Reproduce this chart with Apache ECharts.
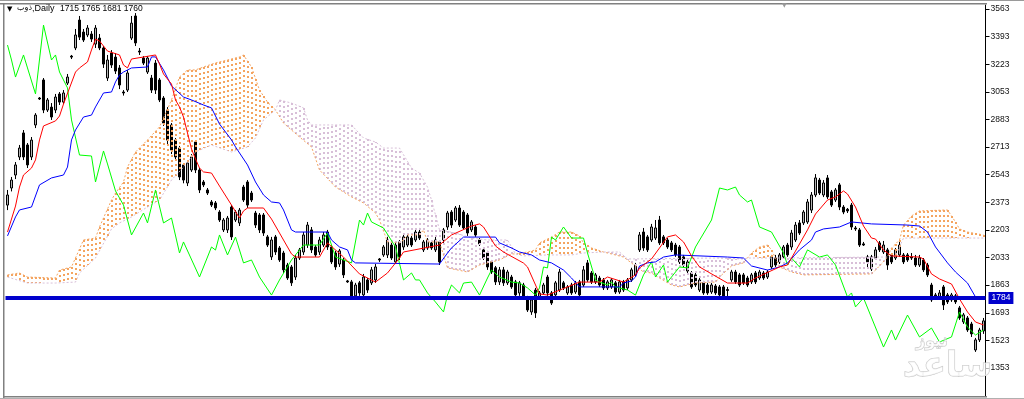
<!DOCTYPE html>
<html><head><meta charset="utf-8">
<script src="https://cdn.jsdelivr.net/npm/echarts@6/dist/echarts.min.js"></script>
<style>html,body{margin:0;padding:0;background:#fff}#c{width:1024px;height:399px}</style>
</head><body><div id="c"></div>
<script>
// ---- data ----
const opens = [2356,2461,2541,2652,2800,2726,2652,2849,3015,3126,2941,2959,2941,3040,2990,3107,3273,3323,3495,3421,3403,3409,3347,3384,3323,3138,3292,3267,3200,3052,3064,3384,3520,3304,3261,3175,3138,3230,3126,3015,2941,2849,2756,2707,2603,2492,2572,2744,2572,2498,2449,2375,2369,2313,2203,2203,2344,2264,2246,2467,2498,2430,2307,2295,2295,2160,2037,2160,2092,2061,1987,1975,1913,2030,2067,2110,2203,2098,2067,2110,2190,2098,2061,1993,2018,1889,1883,1797,1877,1803,1895,1877,1895,2024,2049,2049,2110,2006,2129,2098,2110,2153,2141,2190,2080,2092,2123,2080,2129,2141,2221,2313,2264,2338,2313,2295,2203,2221,2141,2080,2061,2006,1970,1883,1957,1877,1913,1883,1815,1864,1784,1698,1833,1784,1815,1913,1815,1803,1833,1877,1815,1864,1821,1883,1864,2000,1938,1883,1907,1895,1846,1852,1877,1821,1883,1846,1895,1926,2080,2190,2160,2141,2153,2264,2160,2141,2123,2110,2098,2037,1950,1938,1926,1833,1877,1864,1821,1858,1852,1852,1836,1895,1944,1926,1926,1907,1883,1938,1907,1938,1913,1975,2030,2006,2037,2110,2098,2141,2246,2246,2252,2325,2418,2510,2418,2523,2437,2387,2480,2344,2330,2356,2215,2203,2117,2037,1963,2030,2123,2067,2080,2049,2030,2049,2049,2049,2037,2030,1987,2018,1987,1864,1803,1790,1852,1803,1772,1797,1723,1637,1661,1624,1464,1526,1581];
const closes = [2418,2510,2603,2707,2652,2603,2756,2910,3009,2941,3003,2898,3021,2990,3046,3144,3267,3403,3390,3372,3446,3378,3446,3323,3224,3249,3218,3181,3095,3046,3169,3476,3354,3298,3230,3261,3064,3064,3003,2861,2756,2695,2652,2529,2510,2615,2652,2572,2449,2480,2430,2356,2338,2264,2264,2276,2160,2313,2325,2387,2356,2387,2233,2203,2184,2110,2141,2067,2018,1957,1907,1877,2030,2080,2172,2233,2080,2049,2141,2172,2098,2006,1975,2074,1926,1883,1790,1864,1815,1913,1833,1957,1975,2018,2098,2141,2030,2110,2037,2160,2160,2110,2190,2153,2129,2141,2092,2141,2006,2203,2307,2233,2338,2233,2215,2184,2252,2172,2117,2030,1975,1944,1883,1957,1877,1944,1852,1803,1877,1784,1710,1772,1692,1815,1864,1815,1753,1877,1944,1846,1852,1815,1877,1803,1957,1895,1883,1926,1864,1846,1883,1895,1821,1883,1833,1895,1957,1987,2172,2092,2080,2221,2215,2123,2123,2098,2080,2049,2006,1987,2006,1852,1864,1895,1815,1815,1864,1815,1803,1790,1830,1944,1883,1864,1877,1864,1926,1883,1944,1907,1944,2037,1987,2049,2098,2049,2184,2233,2184,2313,2375,2418,2523,2430,2492,2406,2356,2449,2344,2313,2320,2221,2209,2110,2110,2006,2037,2080,2080,2110,1987,2006,2080,2110,2006,2018,2030,1987,2030,1957,1926,1772,1797,1815,1741,1760,1803,1760,1661,1680,1587,1563,1526,1587,1643];
const lows = [2325,2440,2516,2633,2633,2584,2633,2830,3003,2922,2929,2880,2922,2972,2978,3095,3255,3310,3372,3360,3390,3360,3323,3310,3200,3120,3200,3163,3070,3030,3052,3372,3335,3280,3218,3163,3046,3040,2990,2843,2726,2670,2633,2510,2490,2473,2560,2553,2430,2467,2418,2344,2325,2252,2190,2184,2141,2252,2227,2375,2338,2375,2215,2184,2166,2098,2018,2049,2006,1938,1895,1858,1895,2018,2049,2092,2061,2037,2049,2098,2080,1993,1957,1975,1907,1877,1772,1778,1797,1784,1815,1864,1877,2006,2037,2030,2018,1993,2018,2080,2098,2098,2129,2141,2067,2080,2080,2067,1987,2123,2203,2215,2252,2221,2203,2166,2190,2160,2104,2018,1957,1932,1864,1864,1858,1864,1840,1784,1797,1772,1698,1680,1661,1772,1803,1797,1741,1790,1821,1833,1803,1803,1809,1790,1852,1883,1870,1870,1852,1833,1833,1840,1809,1809,1821,1833,1883,1913,2067,2074,2067,2129,2141,2110,2110,2086,2067,2037,1993,1975,1938,1840,1852,1821,1803,1803,1809,1803,1790,1778,1790,1883,1870,1852,1864,1852,1870,1870,1895,1895,1901,1963,1975,1993,2024,2037,2080,2129,2172,2233,2240,2307,2405,2418,2405,2393,2344,2375,2325,2300,2307,2203,2197,2098,2104,1970,1950,2018,2067,2055,1957,1993,2018,2037,1993,2006,2018,1975,1975,1944,1913,1760,1784,1778,1710,1747,1760,1747,1649,1624,1575,1544,1452,1513,1563];
const highs = [2449,2529,2621,2726,2818,2738,2775,2922,3021,3138,3015,2984,3040,3052,3064,3163,3280,3440,3520,3440,3464,3427,3464,3409,3335,3280,3310,3292,3218,3064,3187,3520,3538,3323,3273,3273,3157,3249,3138,3027,2959,2861,2769,2720,2615,2633,2670,2756,2584,2510,2461,2387,2381,2325,2276,2289,2356,2325,2338,2480,2510,2443,2320,2307,2307,2172,2160,2172,2104,2074,2000,1987,2049,2092,2190,2252,2221,2110,2160,2190,2203,2110,2074,2086,2030,1895,1895,1877,1889,1932,1907,1975,1993,2030,2110,2160,2123,2123,2141,2178,2172,2166,2203,2215,2141,2153,2135,2160,2141,2215,2320,2325,2350,2356,2325,2307,2264,2233,2153,2092,2074,2018,1981,1975,1975,1957,1926,1895,1889,1877,1797,1790,1846,1827,1877,1926,1827,1889,1963,1889,1864,1877,1889,1895,1981,2018,1950,1938,1920,1907,1895,1907,1889,1895,1895,1907,1970,2000,2190,2215,2172,2240,2264,2289,2172,2153,2135,2123,2110,2049,2018,1950,1938,1907,1889,1877,1877,1870,1864,1864,1852,1957,1957,1938,1938,1920,1938,1950,1957,1950,1957,2049,2049,2061,2110,2123,2203,2252,2264,2325,2393,2436,2547,2523,2510,2541,2449,2461,2492,2356,2338,2369,2227,2215,2129,2049,2049,2098,2135,2135,2092,2061,2092,2141,2061,2061,2061,2049,2049,2030,2000,1877,1815,1833,1864,1815,1815,1809,1735,1692,1673,1637,1538,1600,1661];
const tenkan = [[0,2190],[2,2350],[3,2467],[4,2541],[6,2584],[7,2634],[8,2757],[9,2843],[12,2874],[13,2904],[14,2978],[17,3175],[18,3200],[20,3237],[21,3311],[22,3378],[23,3366],[25,3304],[28,3280],[29,3218],[30,3200],[31,3255],[37,3280],[38,3224],[39,3163],[41,3101],[42,3003],[43,2960],[44,2898],[46,2701],[47,2640],[48,2584],[49,2560],[51,2553],[53,2473],[56,2356],[58,2276],[59,2320],[60,2338],[64,2338],[66,2270],[68,2184],[71,2055],[72,2036],[78,2036],[80,2123],[84,2036],[88,1932],[92,1882],[95,1938],[98,2030],[99,2067],[108,2110],[111,2172],[116,2227],[118,2240],[119,2221],[122,2104],[124,2067],[129,1999],[130,1975],[133,1809],[135,1802],[143,1882],[148,1882],[150,1913],[154,1882],[157,1926],[158,1969],[161,2024],[165,2160],[167,2172],[169,2129],[171,2043],[173,1975],[180,1876],[185,1876],[187,1907],[193,1975],[195,1987],[197,2073],[200,2203],[202,2301],[205,2387],[207,2406],[209,2443],[210,2424],[212,2344],[214,2227],[216,2153],[217,2147],[219,2079],[221,2043],[228,2036],[229,2024],[231,1932],[233,1901],[236,1870],[238,1778],[240,1698],[242,1636],[244,1618]];
const kijun = [[0,2166],[2,2283],[3,2326],[6,2344],[8,2480],[11,2523],[14,2541],[15,2590],[16,2757],[17,2818],[19,2898],[21,2910],[22,2960],[24,3046],[26,3052],[27,3114],[28,3157],[29,3175],[31,3200],[35,3206],[36,3268],[37,3268],[39,3188],[41,3089],[44,3021],[46,3003],[49,2972],[51,2954],[53,2855],[56,2757],[57,2714],[60,2603],[62,2498],[64,2418],[66,2375],[68,2369],[69,2326],[71,2203],[72,2190],[80,2190],[81,2141],[83,2098],[85,2080],[86,2018],[87,2000],[108,1993],[110,2061],[111,2092],[114,2159],[122,2159],[123,2123],[126,2092],[128,2067],[131,2049],[133,2018],[136,2000],[139,1956],[141,1907],[143,1852],[153,1852],[154,1876],[156,1889],[157,1913],[158,1981],[160,2000],[162,2006],[164,2036],[167,2049],[180,2036],[184,2030],[186,1981],[190,1956],[193,1975],[195,2000],[198,2080],[201,2141],[202,2190],[204,2209],[208,2221],[211,2252],[216,2240],[225,2233],[228,2227],[230,2190],[232,2098],[235,2000],[237,1944],[240,1876],[242,1790]];
const chikou = [[0,3341],[1,3249],[2,3144],[4,3280],[5,3200],[7,3040],[9,3464],[11,3249],[12,3280],[13,3175],[15,3077],[16,2880],[18,2664],[21,2658],[22,2498],[24,2689],[25,2609],[27,2443],[29,2356],[31,2172],[34,2307],[35,2246],[37,2449],[39,2246],[41,2276],[43,2061],[44,2129],[48,1913],[51,2098],[52,2079],[53,2172],[55,2049],[57,2159],[59,2000],[61,2018],[63,1913],[66,1802],[68,1895],[71,2018],[72,2049],[74,2110],[78,2110],[80,2184],[82,2036],[86,2000],[88,2264],[89,2233],[90,2307],[91,2252],[94,2215],[97,2098],[99,1895],[101,1938],[102,1895],[103,1895],[105,1815],[107,1759],[109,1698],[110,1802],[111,1864],[113,1815],[114,1876],[116,1882],[118,1802],[120,1907],[121,1956],[123,1913],[126,1882],[128,1876],[130,1846],[132,1802],[133,1846],[134,1975],[135,1969],[136,2159],[137,2141],[139,2221],[141,2153],[144,2153],[145,2061],[147,1895],[148,1882],[150,1864],[151,1882],[152,1852],[155,1833],[157,1802],[159,1926],[161,2006],[162,1913],[164,1987],[165,1882],[168,1975],[170,1969],[172,2098],[176,2264],[178,2461],[180,2449],[182,2467],[183,2418],[185,2375],[186,2387],[188,2221],[191,2190],[194,2061],[195,1987],[196,2030],[198,1975],[200,2080],[203,2036],[205,2049],[207,1987],[210,1790],[211,1815],[212,1729],[214,1784],[219,1482],[221,1587],[222,1525],[225,1679],[228,1544],[231,1599],[233,1513],[236,1544],[238,1698],[240,1605],[242,1556],[244,1587]];
const spanA = [[0,1926],[3,1938],[5,1913],[12,1907],[13,1956],[16,1975],[19,2141],[22,2153],[23,2221],[26,2387],[27,2430],[29,2498],[30,2590],[32,2683],[35,2757],[38,2837],[41,3003],[43,3144],[45,3188],[47,3188],[49,3206],[52,3231],[55,3249],[58,3268],[59,3280],[61,3206],[63,3064],[65,2990],[67,2941],[69,2861],[73,2775],[76,2714],[78,2572],[82,2467],[86,2406],[89,2369],[92,2307],[93,2264],[95,2129],[98,2123],[99,2141],[100,2172],[103,2172],[104,2203],[105,2129],[108,2129],[110,1969],[115,1944],[118,1987],[123,2018],[126,2055],[127,2055],[130,2067],[132,2080],[133,2123],[136,2159],[138,2190],[141,2190],[143,2166],[144,2123],[146,2092],[149,2067],[151,2055],[154,2036],[157,1981],[159,1944],[161,1938],[163,1907],[166,1864],[168,1852],[172,1876],[177,1882],[178,1913],[181,1981],[184,2000],[185,2030],[186,2061],[188,2098],[190,2110],[191,2080],[192,2030],[193,1975],[196,1944],[199,1926],[216,1932],[218,1981],[220,2036],[221,2092],[223,2141],[224,2233],[226,2289],[228,2320],[235,2326],[237,2252],[238,2209],[240,2190],[244,2172]];
const spanB = [[0,1913],[5,1876],[12,1876],[17,1882],[18,1938],[22,2030],[26,2209],[28,2246],[31,2283],[35,2344],[38,2387],[41,2510],[44,2590],[47,2683],[51,2726],[56,2683],[60,2714],[62,2769],[64,2880],[67,2941],[68,3003],[71,2984],[74,2954],[75,2880],[76,2849],[86,2849],[89,2769],[92,2744],[94,2707],[98,2707],[101,2584],[103,2553],[105,2467],[106,2387],[107,2295],[108,2203],[112,2184],[116,2153],[120,2141],[125,2141],[126,2098],[127,2055],[129,2043],[135,2049],[141,2049],[144,2061],[149,2067],[153,2067],[155,2024],[177,2030],[184,2024],[185,2030],[192,2030],[218,2036],[220,2036],[222,2043],[224,2153],[244,2153]];
const tickLabels = [3563,3393,3223,3053,2883,2713,2543,2373,2203,2033,1863,1693,1523,1353];
const levelLine = 1784;
const titleSymbol = 'ذوب';
const titleText = ',Daily';
const ohlcText = '1715 1765 1681 1760';

// ---- build ----
const categories = opens.map((_, i) => String(i));
const candles = opens.map((o, i) => [o, closes[i], lows[i], highs[i]]);
const ORANGE = '#F4A460', THISTLE = '#D8BFD8';

// value of a drawn span polyline at bar i (the same straight segments ECharts draws)
function onPolyline(list, i) {
  for (let k = 0; k < list.length - 1; k++) {
    const p = list[k], q = list[k + 1];
    if (i >= p[0] && i <= q[0]) return q[0] === p[0] ? p[1] : p[1] + (q[1] - p[1]) * (i - p[0]) / (q[0] - p[0]);
  }
  return null;
}

const frame = [
  { type: 'rect', shape: { x: 0, y: 0, width: 1024, height: 1 }, style: { fill: '#9a9a9a' }, z: 20 },
  { type: 'rect', shape: { x: 0, y: 3, width: 987, height: 1.5 }, style: { fill: '#808080' }, z: 20 },
  { type: 'rect', shape: { x: 3, y: 3, width: 1.5, height: 395 }, style: { fill: '#808080' }, z: 20 },
  { type: 'rect', shape: { x: 3, y: 396, width: 984, height: 1.5 }, style: { fill: '#808080' }, z: 20 },
  { type: 'rect', shape: { x: 0, y: 398, width: 1024, height: 1 }, style: { fill: '#b0b0b0' }, z: 20 },
  { type: 'text', x: 7, y: 6, style: { text: '▼', fontSize: 7, fill: '#000', fontFamily: 'DejaVu Sans' }, z: 20 },
  { type: 'text', x: 17, y: 4, style: { text: titleSymbol, fontSize: 8, fill: '#000', fontFamily: 'DejaVu Sans' }, z: 20 },
  { type: 'text', x: 32, y: 4, style: { text: titleText, fontSize: 9, fill: '#000', fontFamily: 'Liberation Sans' }, z: 20 },
  { type: 'text', x: 60, y: 4, style: { text: ohlcText, fontSize: 8.5, fill: '#000', fontFamily: 'Liberation Sans' }, z: 20 },
  { type: 'text', x: 782, y: 2, style: { text: '▼', fontSize: 6, fill: '#999', fontFamily: 'DejaVu Sans' }, z: 20 },
  { type: 'text', x: 916, y: 334, style: { text: 'نیوز', fontSize: 16, fontWeight: 'bold', fill: 'rgba(255,255,255,0.7)', stroke: '#c4c4c4', lineWidth: 1, fontFamily: 'DejaVu Sans' }, z: 20 },
  { type: 'text', x: 903, y: 350, style: { text: 'ساعد', fontSize: 34, fontWeight: 'bold', fill: 'rgba(255,255,255,0.7)', stroke: '#c4c4c4', lineWidth: 1, fontFamily: 'DejaVu Sans' }, z: 20 }
];

const chart = echarts.init(document.getElementById('c'), null, { renderer: 'canvas' });
const option = {
  animation: false,
  backgroundColor: '#fff',
  grid: { left: 5.5, right: 38.5, top: 5, bottom: 3, show: false },
  xAxis: { type: 'category', data: categories, boundaryGap: true, show: false },
  yAxis: {
    type: 'value', position: 'right', min: 1180.6, max: 3587.6,
    axisLine: { show: true, onZero: false, lineStyle: { color: '#000', width: 1 } },
    axisTick: { show: true, customValues: tickLabels, length: 4, lineStyle: { color: '#000' } },
    axisLabel: { customValues: tickLabels, formatter: v => String(v), fontSize: 8.5, color: '#111', margin: 5, fontFamily: 'Liberation Sans' },
    splitLine: { show: false }
  },
  series: [
    {
      type: 'candlestick', data: candles, barWidth: 2, z: 2,
      itemStyle: { color: '#b4b4b4', color0: '#000', borderColor: '#000', borderColor0: '#000', borderColorDoji: '#000', borderWidth: 1 },
      markLine: {
        silent: true, symbol: ['none', 'none'], z: 10,
        data: [{ yAxis: levelLine }],
        lineStyle: { color: '#0000CD', width: 4, type: 'solid' },
        label: { show: true, position: 'end', formatter: String(levelLine), backgroundColor: '#0000CD', color: '#fff',
          fontSize: 8.5, fontFamily: 'Liberation Sans', padding: [2, 3, 1, 3], distance: 3 }
      }
    },
    { type: 'line', data: spanA, symbol: 'none', z: 4, lineStyle: { color: ORANGE, width: 1, type: [2, 2] } },
    { type: 'line', data: spanB, symbol: 'none', z: 4, lineStyle: { color: THISTLE, width: 1, type: [2, 2] } },
    { type: 'line', data: chikou, symbol: 'none', z: 5, lineStyle: { color: '#00FF00', width: 1 } },
    { type: 'line', data: kijun, symbol: 'none', z: 5, lineStyle: { color: '#0000FF', width: 1 } },
    { type: 'line', data: tenkan, symbol: 'none', z: 5, lineStyle: { color: '#FF0000', width: 1 } }
  ],
  graphic: frame
};
chart.setOption(option);

// cloud hatch: one dotted vertical stroke per bar between Span A and Span B, placed through the chart's own scales
const hatch = [];
for (let i = 0; i < categories.length; i++) {
  const a = onPolyline(spanA, i), b = onPolyline(spanB, i);
  if (a == null || b == null) continue;
  const pa = chart.convertToPixel({ gridIndex: 0 }, [i, a]);
  const pb = chart.convertToPixel({ gridIndex: 0 }, [i, b]);
  const x = Math.round(pa[0]);
  hatch.push({ type: 'line', silent: true, z: 3,
    shape: { x1: x, y1: Math.round(pa[1]), x2: x, y2: Math.round(pb[1]) },
    style: { stroke: a >= b ? ORANGE : THISTLE, lineWidth: 2, lineDash: [2, 3] } });
}
chart.setOption({ graphic: frame.concat(hatch) });
</script>
</body></html>
